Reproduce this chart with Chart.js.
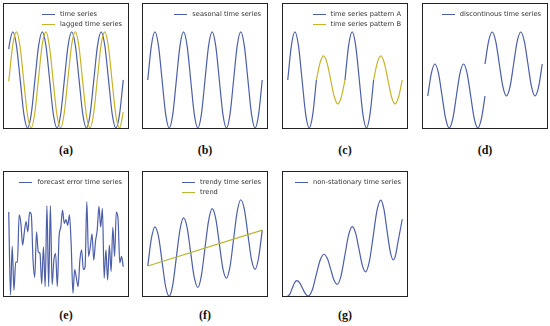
<!DOCTYPE html>
<html>
<head>
<meta charset="utf-8">
<script src="https://cdn.jsdelivr.net/npm/chart.js@4.4.0/dist/chart.umd.min.js"></script>
<style>
body { margin: 0; background: #fff; width: 550px; height: 326px; position: relative; overflow: hidden; font-family: "DejaVu Sans", sans-serif; }
.panel { position: absolute; width: 126px; height: 126px; border: 1px solid #222; box-sizing: border-box; }
.panel canvas { position: absolute; left: 0; top: 0; }
.legend { position: absolute; right: 6px; top: 5px; font-size: 6.7px; color: #333; }
.legend div { display: flex; align-items: center; height: 10px; white-space: nowrap; }
.legend .sw { display: inline-block; width: 13px; height: 1px; margin-right: 5px; }
.label { position: absolute; width: 126px; text-align: center; font-family: "Liberation Serif", serif; font-weight: bold; font-size: 12px; color: #111; }
</style>
</head>
<body>

<div class="panel" style="left:3px;top:3px"><canvas id="chartA" width="124" height="124"></canvas>
  <div class="legend">
    <div><span class="sw" style="background:#4c5ea8"></span>time series</div>
    <div><span class="sw" style="background:#c8b428"></span>lagged time series</div>
  </div></div>
<div class="label" style="left:3px;top:143px">(a)</div>

<div class="panel" style="left:142px;top:3px"><canvas id="chartB" width="124" height="124"></canvas>
  <div class="legend">
    <div><span class="sw" style="background:#4c5ea8"></span>seasonal time series</div>
  </div></div>
<div class="label" style="left:142px;top:143px">(b)</div>

<div class="panel" style="left:282px;top:3px"><canvas id="chartC" width="124" height="124"></canvas>
  <div class="legend">
    <div><span class="sw" style="background:#4c5ea8"></span>time series pattern A</div>
    <div><span class="sw" style="background:#c8b428"></span>time series pattern B</div>
  </div></div>
<div class="label" style="left:282px;top:143px">(c)</div>

<div class="panel" style="left:422px;top:3px"><canvas id="chartD" width="124" height="124"></canvas>
  <div class="legend">
    <div><span class="sw" style="background:#4c5ea8"></span>discontinous time series</div>
  </div></div>
<div class="label" style="left:422px;top:143px">(d)</div>

<div class="panel" style="left:3px;top:171px"><canvas id="chartE" width="124" height="124"></canvas>
  <div class="legend">
    <div><span class="sw" style="background:#4c5ea8"></span>forecast error time series</div>
  </div></div>
<div class="label" style="left:3px;top:308px">(e)</div>

<div class="panel" style="left:142px;top:171px"><canvas id="chartF" width="124" height="124"></canvas>
  <div class="legend">
    <div><span class="sw" style="background:#4c5ea8"></span>trendy time series</div>
    <div><span class="sw" style="background:#b8b530"></span>trend</div>
  </div></div>
<div class="label" style="left:142px;top:308px">(f)</div>

<div class="panel" style="left:282px;top:171px"><canvas id="chartG" width="124" height="124"></canvas>
  <div class="legend">
    <div><span class="sw" style="background:#4c5ea8"></span>non-stationary time series</div>
  </div></div>
<div class="label" style="left:282px;top:308px">(g)</div>

<script>
// phase grid (degrees) shared by most panels
const phase = [0, 45, 90, 135, 180, 225, 270, 315, 360, 405, 450, 495, 540, 585, 630, 675, 720,
    765, 810, 855, 900, 945, 990, 1035, 1080, 1125, 1170, 1215, 1260, 1305, 1350, 1395, 1440];

// (a) time series and lagged copy
const phaseA = [40, 45, 90, 135, 180, 225, 270, 315, 360, 405, 450, 495, 540, 585, 630, 675, 720,
    765, 810, 855, 900, 945, 990, 1035, 1080, 1125, 1170, 1215, 1260, 1305, 1350, 1395, 1440];
const timeSeries = [0.64,
    0.71, 1, 0.71, 0, -0.71, -1, -0.71, 0,
    0.71, 1, 0.71, 0, -0.71, -1, -0.71, 0,
    0.71, 1, 0.71, 0, -0.71, -1, -0.71, 0,
    0.71, 1, 0.71, 0, -0.71, -1, -0.71, 0];
const laggedSeries = [-0.03,
    0.05, 0.74, 1, 0.67, -0.05, -0.74, -1, -0.67,
    0.05, 0.74, 1, 0.67, -0.05, -0.74, -1, -0.67,
    0.05, 0.74, 1, 0.67, -0.05, -0.74, -1, -0.67,
    0.05, 0.74, 1, 0.67, -0.05, -0.74, -1, -0.67];

// (b) seasonal
const seasonal = [0, 0.71, 1, 0.71, 0, -0.71, -1, -0.71,
    0, 0.71, 1, 0.71, 0, -0.71, -1, -0.71,
    0, 0.71, 1, 0.71, 0, -0.71, -1, -0.71,
    0, 0.71, 1, 0.71, 0, -0.71, -1, -0.71, 0];

// (c) two alternating patterns
const patternA = [0, 0.71, 1, 0.71, 0, -0.71, -1, -0.71, 0,
    null, null, null, null, null, null, null,
    0, 0.71, 1, 0.71, 0, -0.71, -1, -0.71, 0,
    null, null, null, null, null, null, null, null];
const patternB = [null, null, null, null, null, null, null, null,
    0, 0.35, 0.5, 0.35, 0, -0.35, -0.5, -0.35, 0,
    null, null, null, null, null, null, null,
    0, 0.35, 0.5, 0.35, 0, -0.35, -0.5, -0.35, 0];

// (d) jump half way
const discLow = [0, 0.71, 1, 0.71, 0, -0.71, -1, -0.71, 0, 0.71, 1, 0.71, 0, -0.71, -1, -0.71, 0,
    null, null, null, null, null, null, null, null, null, null, null, null, null, null, null, null];
const discHigh = [null, null, null, null, null, null, null, null, null, null, null, null, null, null, null, null,
    1, 1.71, 2, 1.71, 1, 0.29, 0, 0.29, 1, 1.71, 2, 1.71, 1, 0.29, 0, 0.29, 1];

// (e) forecast error
const forecastError = [0.89, 0.01, 0.53, 0.06, 0.36, 0.36, 0.86, 0.77, 0.54, 0.68,
    0.79, 0.68, 0.89, 0.86, 0.38, 0.20, 0.68, 0.47, 0.45, 0.13,
    0.52, 0.10, 0.96, 0.10, 0.96, 0.12, 0.38, 0.45, 0.10, 0.63,
    0.73, 0.91, 0.77, 0.81, 0.75, 0.86, 0.54, 0.03, 0.28, 0.19,
    0.10, 0.38, 0.49, 0.28, 0.31, 1.00, 0.42, 0.52, 0.66, 0.38,
    0.58, 0.70, 0.95, 0.73, 0.93, 0.19, 0.49, 0.17, 0.54, 0.26,
    0.73, 0.42, 0.89, 0.82, 0.35, 0.42, 0.31];

// (f) trendy series + trend line
const trendy = [0, 0.74, 1.06, 0.80, 0.12, -0.56, -0.82, -0.50,
    0.24, 0.98, 1.30, 1.04, 0.36, -0.31, -0.58, -0.25,
    0.49, 1.22, 1.55, 1.28, 0.61, -0.07, -0.33, -0.01,
    0.73, 1.47, 1.79, 1.53, 0.85, 0.17, -0.09, 0.23, 0.97];
const trendX = [0, 1440];
const trendY = [0, 0.97];

// (g) non-stationary
const phaseG = [0, 28, 56, 85, 113, 150, 186, 223, 259, 308, 357, 407, 456, 498, 540, 581, 623,
    670, 718, 765, 812, 854, 896, 938, 980, 1027, 1075, 1122, 1169, 1209, 1248, 1288, 1327,
    1355, 1384, 1412, 1440];
const nonStationary = [0, 0.09, 0.32, 0.55, 0.64, 0.55, 0.32, 0.09, 0, 0.25, 0.87, 1.49, 1.74,
    1.56, 1.12, 0.67, 0.49, 0.84, 1.69, 2.54, 2.89, 2.62, 1.95, 1.28, 1.01, 1.45, 2.5, 3.56, 4.0,
    3.63, 2.75, 1.87, 1.5, 1.68, 2.2, 2.7, 3.2];

const blue = '#4c5ea8';
const yellow = '#c8b428';
const olive = '#b8b530';

function toPoints(xs, ys) {
    return ys.map((y, i) => ({ x: xs[i], y: y }));
}

function line(xs, ys, color, order) {
    return { data: toPoints(xs, ys), borderColor: color, borderWidth: 1.2, order: order || 0 };
}

function drawPanel(id, datasets, xMin, xMax, yMin, yMax) {
    new Chart(document.getElementById(id), {
        type: 'line',
        data: { datasets: datasets },
        options: {
            responsive: false,
            animation: false,
            layout: { padding: 0 },
            elements: {
                point: { radius: 0 },
                line: { cubicInterpolationMode: 'monotone' }
            },
            scales: {
                x: { type: 'linear', min: xMin, max: xMax, display: false },
                y: { min: yMin, max: yMax, display: false }
            },
            plugins: { legend: { display: false }, tooltip: { enabled: false } }
        }
    });
}

const errIndex = forecastError.map((v, i) => i);

drawPanel('chartA', [line(phaseA, timeSeries, blue, 1), line(phaseA, laggedSeries, yellow, 0)], -18, 1498, -1, 1.58);
drawPanel('chartB', [line(phase, seasonal, blue)], -60, 1500, -1, 1.58);
drawPanel('chartC', [line(phase, patternA, blue, 1), line(phase, patternB, yellow, 0)], -60, 1500, -1, 1.58);
drawPanel('chartD', [line(phase, discLow, blue), line(phase, discHigh, blue)], -60, 1500, -1, 2.875);
drawPanel('chartE', [line(errIndex, forecastError, blue)], -2.74, 68.74, 0, 1.315);
drawPanel('chartF', [line(phase, trendy, blue, 1), line(trendX, trendY, olive, 0)], -60, 1500, -0.81, 2.54);
drawPanel('chartG', [line(phaseG, nonStationary, blue)], -60, 1500, 0, 5.17);
</script>
</body>
</html>
